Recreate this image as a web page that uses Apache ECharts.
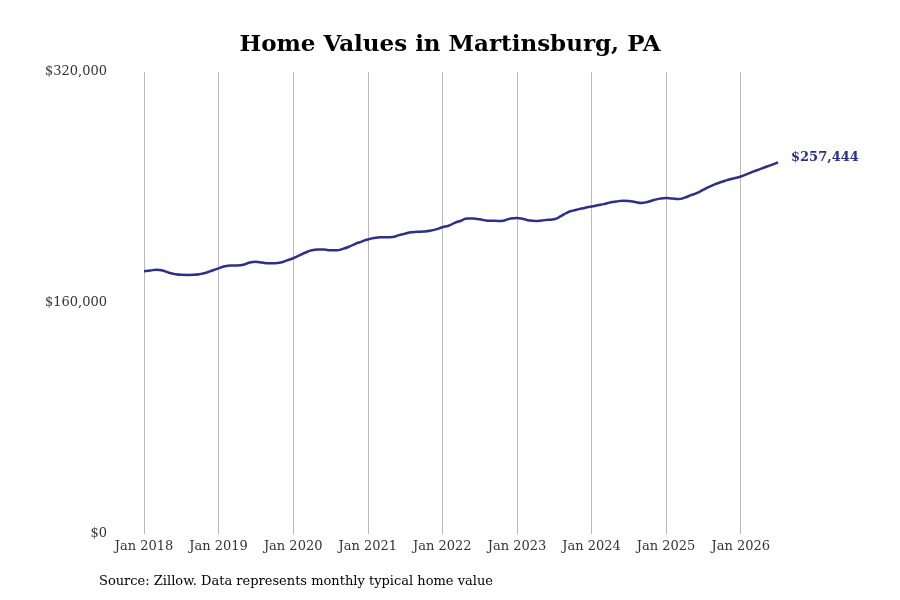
<!DOCTYPE html>
<html>
<head>
<meta charset="utf-8">
<script src="https://cdn.jsdelivr.net/npm/echarts@6/dist/echarts.min.js"></script>
<style>html,body{margin:0;padding:0;background:#fff}#main{width:900px;height:600px}</style>
</head>
<body>
<div id="main"></div>
<script>
// monthly typical home value, thousands of dollars, Jan 2018 - Jul 2026
var years = [2018, 2019, 2020, 2021, 2022, 2023, 2024, 2025, 2026];
var values = [
    182, 182.5, 183, 182.5, 181, 180, 179.5, 179.4, 179.5, 180, 181, 182.5,
    184, 185.5, 186, 186, 186.5, 188, 188.5, 188, 187.5, 187.5, 188, 189.5,
    191, 193, 195, 196.5, 197, 197, 196.5, 196.5, 197.5, 199, 201, 202.5,
    204, 205, 205.5, 205.5, 205.7, 207, 208, 209, 209.3, 209.5, 210, 211,
    212.5, 213.5, 215.5, 217, 218.5, 218.5, 218, 217.2, 217, 216.8, 217.2, 218.5,
    218.8, 218.2, 217.2, 216.8, 217.2, 217.6, 218, 220, 222.5, 224, 225, 226,
    226.8, 227.7, 228.5, 229.6, 230.3, 230.8, 230.7, 230, 229.3, 230, 231.3, 232.3,
    232.7, 232.3, 232, 233, 234.7, 236.3, 238.5, 240.6, 242.5, 244, 245.4, 246.4,
    247.6, 249.3, 251, 252.6, 254.2, 255.7, 257.444
];
var months = [];
for (var i = 0; i < values.length; i++) {
    months.push('Jan ' + years[Math.floor(i / 12)] + '|' + i);
}
var lineColor = '#2e2e8b';
var serif = '"DejaVu Serif", serif';

var chart = echarts.init(document.getElementById('main'));
chart.setOption({
    animation: false,
    title: {
        text: 'Home Values in Martinsburg, PA',
        left: 'center',
        top: 29,
        textStyle: { fontFamily: serif, fontSize: 23, fontWeight: 'bold', color: '#000' }
    },
    graphic: [{
        type: 'text', left: 99, top: 575,
        style: { text: 'Source: Zillow. Data represents monthly typical home value', font: '13px ' + serif, fill: '#000' }
    }],
    grid: { left: 144, right: 122, top: 72, bottom: 66 },
    xAxis: {
        type: 'category',
        data: months,
        boundaryGap: false,
        axisLine: { show: false },
        axisTick: { show: false },
        axisLabel: {
            interval: 11,
            fontFamily: serif, fontSize: 13, color: '#333', margin: 6,
            formatter: function (v) { return v.split('|')[0]; }
        },
        splitLine: { show: true, interval: 11, lineStyle: { color: '#bbb', width: 1 } }
    },
    yAxis: {
        type: 'value', min: 0, max: 320, interval: 160,
        axisLine: { show: false },
        axisTick: { show: false },
        splitLine: { show: false },
        axisLabel: {
            fontFamily: serif, fontSize: 13, color: '#333', margin: 37,
            formatter: function (v) { return '$' + (v * 1000).toLocaleString('en-US'); }
        }
    },
    series: [{
        type: 'line',
        data: values,
        smooth: true,
        symbol: 'none',
        lineStyle: { color: lineColor, width: 2.5 },
        endLabel: {
            show: true,
            distance: 13,
            offset: [0, -5],
            fontFamily: serif, fontSize: 13, fontWeight: 'bold', color: lineColor,
            formatter: function (p) { return '$' + Math.round(p.value * 1000).toLocaleString('en-US'); }
        }
    }]
});
</script>
</body>
</html>
